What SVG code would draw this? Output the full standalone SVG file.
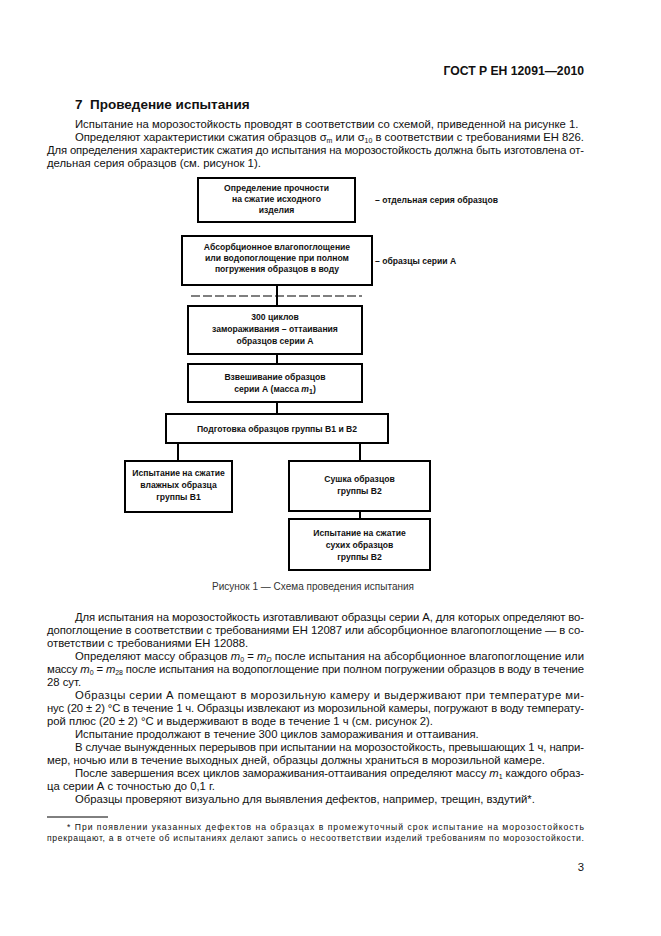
<svg xmlns="http://www.w3.org/2000/svg" width="661" height="936" viewBox="0 0 661 936">
<style>
text{font-family:"Liberation Sans",Arial,sans-serif;fill:#111}
.hdr{font-size:12.2px;font-weight:bold}
.h1{font-size:13.5px;font-weight:bold}
.p{font-size:11.3px}
.bx{fill:#fff;stroke:#000;stroke-width:2}
.bt{font-size:8.6px;font-weight:bold;text-anchor:middle}
.lbl{font-size:8.6px;font-weight:bold}
.cap{font-size:10px;fill:#333}
.fn{font-size:8.6px}
.con line{stroke:#000;stroke-width:2}
.it{font-style:italic}
.sub{font-size:7px}
</style>
<rect width="661" height="936" fill="#fff"/>
<text class="hdr" x="584" y="75" text-anchor="end">ГОСТ Р ЕН 12091—2010</text>
<text class="h1" x="75" y="109">7<tspan x="90">Проведение испытания</tspan></text>
<text class="p" x="75" y="128">Испытание на морозостойкость проводят в соответствии со схемой, приведенной на рисунке 1.</text>
<text class="p" x="75" y="141" textLength="509" lengthAdjust="spacing">Определяют характеристики сжатия образцов σ<tspan class="sub" dy="2">m</tspan><tspan dy="-2"> или σ</tspan><tspan class="sub" dy="2">10</tspan><tspan dy="-2"> в соответствии с требованиями ЕН 826.</tspan></text>
<text class="p" x="47" y="154" textLength="537" lengthAdjust="spacing">Для определения характеристик сжатия до испытания на морозостойкость должна быть изготовлена от-</text>
<text class="p" x="47" y="167">дельная серия образцов (см. рисунок 1).</text>

<g id="n1"><rect class="bx" x="198" y="178" width="157" height="44"/><text class="bt" x="276.5" y="191">Определение прочности</text><text class="bt" x="276.5" y="202">на сжатие исходного</text><text class="bt" x="276.5" y="213">изделия</text></g>
<g id="l1"><text class="lbl" x="375" y="203">– отдельная серия образцов</text></g>
<g id="n2"><rect class="bx" x="182" y="236" width="190" height="49"/><text class="bt" x="277" y="250">Абсорбционное влагопоглощение</text><text class="bt" x="277" y="261">или водопоглощение при полном</text><text class="bt" x="277" y="272">погружения образцов в воду</text></g>
<g id="l2"><text class="lbl" x="375" y="264">– образцы серии А</text></g>
<g id="n3"><rect class="bx" x="188" y="306" width="174" height="48"/><text class="bt" x="275" y="320">300 циклов</text><text class="bt" x="275" y="332">замораживания – оттаивания</text><text class="bt" x="275" y="344">образцов серии А</text></g>
<g id="n4"><rect class="bx" x="188" y="364" width="174" height="38"/><text class="bt" x="275" y="380">Взвешивание образцов</text><text class="bt" x="275" y="392">серии А (масса <tspan class="it">m</tspan><tspan class="sub" dy="2">1</tspan><tspan dy="-2">)</tspan></text></g>
<g id="n5"><rect class="bx" x="166" y="414" width="222" height="29"/><text class="bt" x="277" y="432">Подготовка образцов группы В1 и В2</text></g>
<g id="n6"><rect class="bx" x="125" y="461" width="107" height="51"/><text class="bt" x="178.5" y="476">Испытание на сжатие</text><text class="bt" x="178.5" y="488">влажных образца</text><text class="bt" x="178.5" y="500">группы В1</text></g>
<g id="n7"><rect class="bx" x="289" y="461" width="141" height="50"/><text class="bt" x="359.5" y="482">Сушка образцов</text><text class="bt" x="359.5" y="494">группы В2</text></g>
<g id="n8"><rect class="bx" x="289" y="519" width="141" height="51"/><text class="bt" x="359.5" y="536">Испытание на сжатие</text><text class="bt" x="359.5" y="548">сухих образцов</text><text class="bt" x="359.5" y="560">группы В2</text></g>

<g class="con" id="connectors">
<line x1="277" y1="285" x2="277" y2="306"/>
<line x1="191" y1="296" x2="362" y2="296" style="stroke-width:1.2;stroke-dasharray:9 3"/>
<line x1="277" y1="354" x2="277" y2="364"/>
<line x1="277" y1="402" x2="277" y2="414"/>
<line x1="178" y1="443" x2="178" y2="461"/>
<line x1="360" y1="443" x2="360" y2="461"/>
<line x1="360" y1="511" x2="360" y2="519"/>
</g>

<text class="cap" x="212" y="590">Рисунок 1 — Схема проведения испытания</text>

<text class="p" x="75" y="621" textLength="509" lengthAdjust="spacing">Для испытания на морозостойкость изготавливают образцы серии А, для которых определяют во-</text>
<text class="p" x="47" y="634" textLength="537" lengthAdjust="spacing">допоглощение в соответствии с требованиями ЕН 12087 или абсорбционное влагопоглощение — в со-</text>
<text class="p" x="47" y="647">ответствии с требованиями ЕН 12088.</text>
<text class="p" x="75" y="660" textLength="509" lengthAdjust="spacing">Определяют массу образцов <tspan class="it">m</tspan><tspan class="sub" dy="2">0</tspan><tspan dy="-2"> = </tspan><tspan class="it">m</tspan><tspan class="sub it" dy="2">D</tspan><tspan dy="-2"> после испытания на абсорбционное влагопоглощение или</tspan></text>
<text class="p" x="47" y="673" textLength="537" lengthAdjust="spacing">массу <tspan class="it">m</tspan><tspan class="sub" dy="2">0</tspan><tspan dy="-2"> = </tspan><tspan class="it">m</tspan><tspan class="sub" dy="2">28</tspan><tspan dy="-2"> после испытания на водопоглощение при полном погружении образцов в воду в течение</tspan></text>
<text class="p" x="47" y="686">28 сут.</text>
<text class="p" x="75" y="699" textLength="509" lengthAdjust="spacing">Образцы серии А помещают в морозильную камеру и выдерживают при температуре ми-</text>
<text class="p" x="47" y="712" textLength="537" lengthAdjust="spacing">нус (20 ± 2) °С в течение 1 ч. Образцы извлекают из морозильной камеры, погружают в воду температу-</text>
<text class="p" x="47" y="725">рой плюс (20 ± 2) °С и выдерживают в воде в течение 1 ч (см. рисунок 2).</text>
<text class="p" x="75" y="738">Испытание продолжают в течение 300 циклов замораживания и оттаивания.</text>
<text class="p" x="75" y="751" textLength="509" lengthAdjust="spacing">В случае вынужденных перерывов при испытании на морозостойкость, превышающих 1 ч, напри-</text>
<text class="p" x="47" y="764">мер, ночью или в течение выходных дней, образцы должны храниться в морозильной камере.</text>
<text class="p" x="75" y="777" textLength="509" lengthAdjust="spacing">После завершения всех циклов замораживания-оттаивания определяют массу <tspan class="it">m</tspan><tspan class="sub" dy="2">1</tspan><tspan dy="-2"> каждого образ-</tspan></text>
<text class="p" x="47" y="790">ца серии А с точностью до 0,1 г.</text>
<text class="p" x="75" y="803">Образцы проверяют визуально для выявления дефектов, например, трещин, вздутий*.</text>

<line x1="47" y1="817" x2="108" y2="817" stroke="#000" stroke-width="1"/>
<text class="fn" x="67" y="830" textLength="517" lengthAdjust="spacing">* При появлении указанных дефектов на образцах в промежуточный срок испытание на морозостойкость</text>
<text class="fn" x="47" y="841" textLength="537" lengthAdjust="spacing">прекращают, а в отчете об испытаниях делают запись о несоответствии изделий требованиям по морозостойкости.</text>
<text class="p" x="584" y="871" text-anchor="end">3</text>
</svg>
